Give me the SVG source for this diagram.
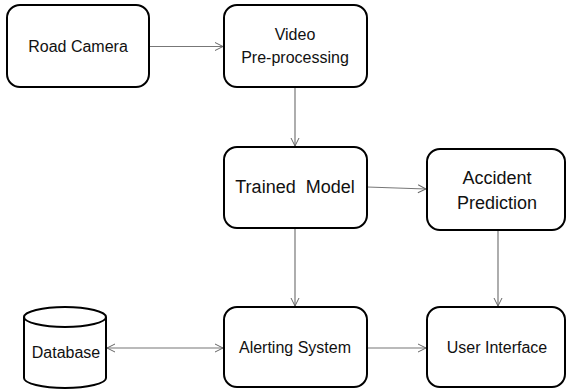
<svg xmlns="http://www.w3.org/2000/svg" width="566" height="389" viewBox="0 0 566 389">
<defs>
<marker id="ah" markerWidth="10" markerHeight="10" refX="9" refY="5" orient="auto" markerUnits="userSpaceOnUse">
<path d="M1,1 L9,5 L1,9" fill="none" stroke="#666" stroke-width="1"/>
</marker>
<marker id="as" markerWidth="10" markerHeight="10" refX="1" refY="5" orient="auto" markerUnits="userSpaceOnUse">
<path d="M9,1 L1,5 L9,9" fill="none" stroke="#666" stroke-width="1"/>
</marker>
</defs>
<style>
.box{fill:#fff;stroke:#000;stroke-width:2}
.t{font-family:"Liberation Sans",Arial,sans-serif;font-size:16px;fill:#111;text-anchor:middle}
.l{font-size:18px}
.c{fill:none;stroke:#777;stroke-width:1.2}
</style>
<rect width="566" height="389" fill="#fff"/>
<g id="connectors">
<line class="c" x1="149" y1="46.5" x2="223" y2="46.5" marker-end="url(#ah)"/>
<line class="c" x1="295" y1="87" x2="295" y2="146" marker-end="url(#ah)"/>
<line class="c" x1="367" y1="187" x2="426" y2="189" marker-end="url(#ah)"/>
<line class="c" x1="295" y1="228" x2="295" y2="306" marker-end="url(#ah)"/>
<line class="c" x1="498" y1="230" x2="498" y2="306" marker-end="url(#ah)"/>
<line class="c" x1="107" y1="348" x2="223" y2="348" marker-start="url(#as)" marker-end="url(#ah)"/>
<line class="c" x1="367" y1="348" x2="426" y2="348" marker-end="url(#ah)"/>
</g>
<g id="road-camera">
<rect class="box" x="7" y="5" width="142" height="82" rx="13"/>
<text class="t" x="78" y="52">Road Camera</text>
</g>
<g id="video-preprocessing">
<rect class="box" x="224" y="5" width="143" height="82" rx="13"/>
<text class="t" x="295" y="40">Video</text>
<text class="t" x="295" y="63">Pre-processing</text>
</g>
<g id="trained-model">
<rect class="box" x="224" y="147" width="143" height="81" rx="13"/>
<text class="t l" x="295" y="193" xml:space="preserve">Trained  Model</text>
</g>
<g id="accident-prediction">
<rect class="box" x="427" y="149" width="138" height="81" rx="13"/>
<text class="t l" x="497" y="184">Accident</text>
<text class="t l" x="497" y="209">Prediction</text>
</g>
<g id="database">
<path class="box" d="M24,317 L24,378 A41,10 0 0 0 106,378 L106,317 A41,10 0 0 0 24,317 Z"/>
<path d="M24,317 A41,10 0 0 0 106,317" fill="none" stroke="#000" stroke-width="2"/>
<text class="t" x="66" y="358">Database</text>
</g>
<g id="alerting-system">
<rect class="box" x="224" y="307" width="143" height="80" rx="13"/>
<text class="t" x="295" y="353">Alerting System</text>
</g>
<g id="user-interface">
<rect class="box" x="427" y="307" width="138" height="80" rx="13"/>
<text class="t" x="497" y="353">User Interface</text>
</g>
</svg>
